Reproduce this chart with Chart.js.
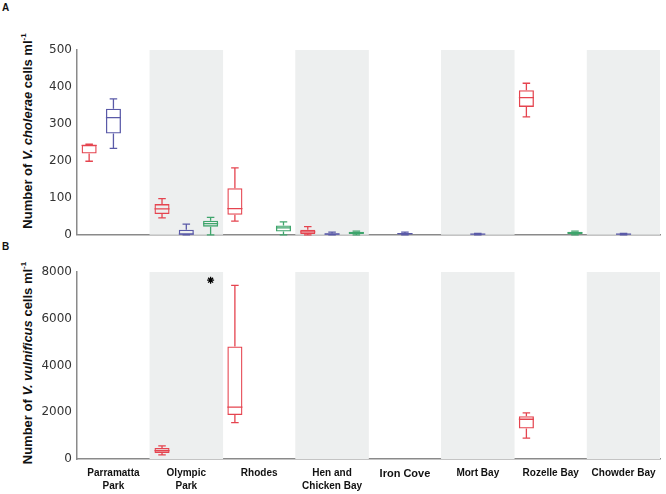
<!DOCTYPE html>
<html>
<head>
<meta charset="utf-8">
<script src="https://cdn.jsdelivr.net/npm/chart.js@4.4.0/dist/chart.umd.min.js"></script>
<style>
  body { margin: 0; background: #fff; }
  #wrap { position: relative; width: 666px; height: 494px; font-family: 'Liberation Sans', Arial, sans-serif; color: #111; }
  .panel { position: absolute; left: 0; width: 666px; height: 247px; }
  .ytitle { position: absolute; font-weight: bold; font-size: 13px; white-space: nowrap;
            transform: translate(-50%, -50%) rotate(-90deg); }
  .ytitle sup { font-size: 8px; }
  .letter { position: absolute; font-weight: bold; font-size: 10px; }
</style>
</head>
<body>
<div id="wrap">
  <div class="letter" style="left:2px;top:2px;">A</div>
  <div class="letter" style="left:2px;top:241px;">B</div>
  <div class="ytitle" style="left:27px;top:131px;">Number of <i>V. cholerae</i> cells ml<sup>-1</sup></div>
  <div class="ytitle" style="left:27px;top:363px;">Number of <i>V. vulnificus</i> cells ml<sup>-1</sup></div>
  <div class="panel" style="top:0;"><canvas id="chartA"></canvas></div>
  <div class="panel" style="top:247px;"><canvas id="chartB"></canvas></div>
</div>
<script>
const sites = [['Parramatta', 'Park'], ['Olympic', 'Park'], 'Rhodes', ['Hen and', 'Chicken Bay'], 'Iron Cove', 'Mort Bay', 'Rozelle Bay', 'Chowder Bay'];
const shaded = [false, true, false, true, false, true, false, true];

// [min, q1, median, q3, max] per site, null = no box
const choleraeRed   = [[199, 220, 242, 243, 245], [46, 56, 70, 83, 98], [37, 54, 71, 126, 181], [0, 2, 8, 14, 22], null, null, [319, 346, 371, 391, 410], null];
const choleraeBlue  = [[234, 274, 317, 341, 368], [0, 0, 2, 14, 29], null, [0, 0, 2, 4, 7], [0, 1, 3, 5, 7], [0, 1, 2, 3, 4], null, [0, 1, 2, 3, 4]];
const choleraeGreen = [null, [0, 22, 30, 38, 47], [0, 9, 19, 25, 35], [0, 2, 5, 8, 10], null, null, [0, 2, 5, 8, 10], null];

const vulnificusRed   = [null, [180, 260, 360, 470, 560], [1555, 1885, 2215, 4810, 7430], null, null, null, [890, 1300, 1700, 1830, 1970], null];
const vulnificusBlue  = [null, null, null, null, null, null, null, null];
const vulnificusGreen = [null, null, null, null, null, null, null, null];
const vulnificusGreenOutliers = [null, 7650, null, null, null, null, null, null];

const yTicksA = [0, 100, 200, 300, 400, 500];
const yTicksB = [0, 2000, 4000, 6000, 8000];

const RED = '#e5444f', BLUE = '#5a5aa8', GREEN = '#3fa56c';

// whiskers, medians and outliers drawn on top of the floating bars
const whiskers = {
  id: 'whiskers',
  afterDatasetsDraw(chart) {
    const ctx = chart.ctx, y = chart.scales.y;
    chart.data.datasets.forEach((ds, di) => {
      if (!ds.stats) return;
      const meta = chart.getDatasetMeta(di);
      ds.stats.forEach((s, i) => {
        const bar = meta.data[i];
        if (!bar) return;
        const x = bar.x, half = bar.width / 2, cap = half * 0.5;
        ctx.save();
        ctx.strokeStyle = ds.borderColor;
        ctx.lineWidth = 1.3;
        if (s) {
          const pMin = y.getPixelForValue(s[0]), pQ1 = y.getPixelForValue(s[1]);
          const pMed = y.getPixelForValue(s[2]), pQ3 = y.getPixelForValue(s[3]);
          const pMax = y.getPixelForValue(s[4]);
          ctx.beginPath();
          ctx.moveTo(x, pQ1); ctx.lineTo(x, pMin);
          ctx.moveTo(x - cap, pMin); ctx.lineTo(x + cap, pMin);
          ctx.moveTo(x, pQ3); ctx.lineTo(x, pMax);
          ctx.moveTo(x - cap, pMax); ctx.lineTo(x + cap, pMax);
          ctx.moveTo(x - half, pMed); ctx.lineTo(x + half, pMed);
          ctx.stroke();
        }
        if (ds.outliers && ds.outliers[i] != null) {
          ctx.strokeStyle = '#000';
          ctx.fillStyle = '#000';
          Chart.helpers.drawPoint(ctx, { pointStyle: 'star', radius: 3.5, borderWidth: 1.6, rotation: 0 }, x, y.getPixelForValue(ds.outliers[i]));
        }
        ctx.restore();
      });
    });
  }
};

function boxSet(label, stats, color, outliers) {
  return {
    label: label,
    data: stats.map(s => s ? [s[1], s[3]] : null),
    stats: stats,
    outliers: outliers,
    borderColor: color,
    backgroundColor: 'rgba(0,0,0,0)',
    borderWidth: 1.3,
    borderSkipped: false,
    barPercentage: 0.62,
    categoryPercentage: 1,
    order: 1
  };
}

function makeChart(id, red, blue, green, greenOut, yMax, yStep, showLabels, topPad, xHeight) {
  new Chart(document.getElementById(id), {
    type: 'bar',
    data: {
      labels: sites,
      datasets: [
        {
          label: 'band',
          data: shaded.map(s => s ? yMax : null),
          backgroundColor: '#edefef',
          grouped: false,
          barPercentage: 1,
          categoryPercentage: 1,
          order: 10
        },
        boxSet('red', red, RED),
        boxSet('blue', blue, BLUE),
        boxSet('green', green, GREEN, greenOut)
      ]
    },
    options: {
      responsive: true,
      maintainAspectRatio: false,
      animation: false,
      layout: { padding: { top: topPad, right: 6, left: 0, bottom: 0 } },
      plugins: { legend: { display: false }, tooltip: { enabled: false } },
      scales: {
        x: {
          grid: { display: false, drawTicks: false },
          border: { display: true, color: '#8a8a8a', width: 1.5 },
          ticks: {
            display: showLabels,
            maxRotation: 0,
            autoSkip: false,
            padding: 8,
            color: '#111',
            font: c => ({ family: "'Liberation Sans', Arial", size: c.index === 4 ? 11 : 10, weight: 'bold', lineHeight: 1.3 })
          },
          afterFit: s => { s.height = xHeight; }
        },
        y: {
          min: 0,
          max: yMax,
          grid: { display: false, drawTicks: false },
          border: { display: true, color: '#8a8a8a', width: 1.5 },
          ticks: { stepSize: yStep, padding: 5, color: '#333', font: { family: "'DejaVu Sans'", size: 12 }, callback: v => String(v) },
          afterFit: s => { s.width = 77; }
        }
      }
    },
    plugins: [whiskers]
  });
}

makeChart('chartA', choleraeRed, choleraeBlue, choleraeGreen, null, yTicksA[yTicksA.length - 1], 100, false, 50, 9);
makeChart('chartB', vulnificusRed, vulnificusBlue, vulnificusGreen, vulnificusGreenOutliers, yTicksB[yTicksB.length - 1], 2000, true, 25, 35);
</script>
</body>
</html>
